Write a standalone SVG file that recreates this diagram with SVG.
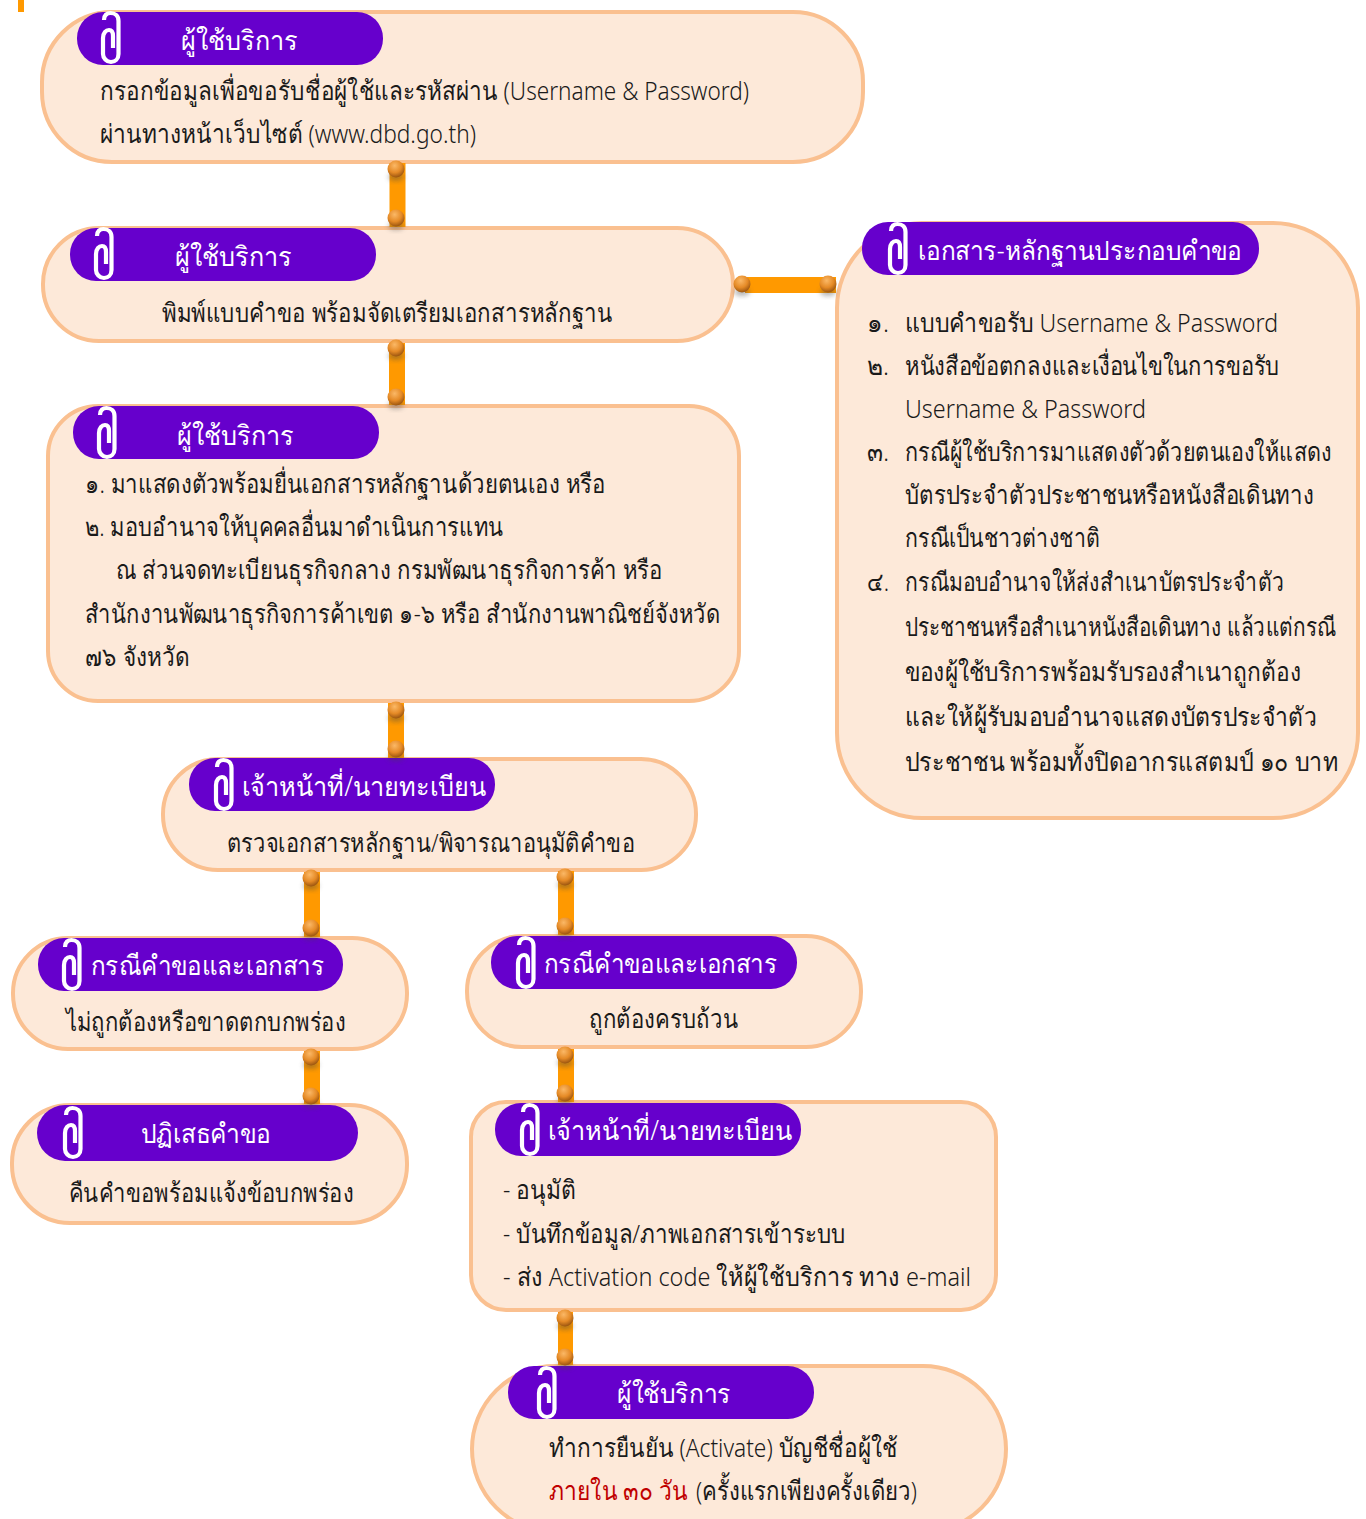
<svg xmlns="http://www.w3.org/2000/svg" width="1366" height="1519" viewBox="0 0 1366 1519">
<style>
.box{fill:#fde9d9;stroke:#fac090;stroke-width:4}
.pill{fill:#6600cc}
.h{font:300 27px "Noto Sans","DejaVu Sans","Liberation Sans",sans-serif;fill:#fff}
.t{font:300 26px "Noto Sans","DejaVu Sans","Liberation Sans",sans-serif;fill:#1a1a1a}
.r{fill:#c00000}
.bar{fill:#ff9900}
</style>
<defs>
<radialGradient id="pg" cx="0.42" cy="0.3" r="0.75"><stop offset="0" stop-color="#fbb866"/><stop offset="0.55" stop-color="#e58a26"/><stop offset="1" stop-color="#8f4c0c"/></radialGradient>
<filter id="bl" x="-50%" y="-50%" width="200%" height="200%"><feGaussianBlur stdDeviation="2.500"/></filter>
<g id="pin"><ellipse cx="0" cy="8" rx="8" ry="4" fill="#444" opacity=".4" filter="url(#bl)"/><circle r="8.500" fill="url(#pg)"/></g>
<path id="clip" d="M3 9C3 4 6 2 9.500 2C14 2 17.500 5 17.500 10V43C17.500 48 14 51 10 51C5.500 51 2 47 2 43V27C2 22 5 19 8 19C11 19 12 22 12 25V37" fill="none" stroke="#fff" stroke-width="4.200"/>
</defs>
<rect x="18" y="0" width="6" height="12" fill="#ff9900"/>
<g id="n1"><rect class="box" x="42" y="12" width="821" height="150" rx="70"/><rect class="pill" x="77" y="12" width="306" height="53" rx="26"/><use href="#clip" x="101" y="11"/>
<text class="h" x="181" y="50" textLength="117" lengthAdjust="spacingAndGlyphs">ผู้ใช้บริการ</text>
<text class="t" x="100" y="100" textLength="649" lengthAdjust="spacingAndGlyphs">กรอกข้อมูลเพื่อขอรับชื่อผู้ใช้และรหัสผ่าน (Username &amp; Password)</text>
<text class="t" x="100" y="143" textLength="376" lengthAdjust="spacingAndGlyphs">ผ่านทางหน้าเว็บไซต์ (www.dbd.go.th)</text></g>
<g id="n2"><rect class="box" x="43" y="228" width="690" height="113" rx="56"/><rect class="pill" x="70" y="228" width="306" height="53" rx="26"/><use href="#clip" x="94" y="227"/>
<text class="h" x="175" y="266" textLength="117" lengthAdjust="spacingAndGlyphs">ผู้ใช้บริการ</text>
<text class="t" x="162" y="322" textLength="450" lengthAdjust="spacingAndGlyphs">พิมพ์แบบคำขอ พร้อมจัดเตรียมเอกสารหลักฐาน</text></g>
<g id="n3"><rect class="box" x="48" y="406" width="691" height="295" rx="50"/><rect class="pill" x="73" y="406" width="306" height="53" rx="26"/><use href="#clip" x="97" y="406"/>
<text class="h" x="177" y="445" textLength="117" lengthAdjust="spacingAndGlyphs">ผู้ใช้บริการ</text>
<text class="t" x="85" y="493" textLength="521" lengthAdjust="spacingAndGlyphs">๑. มาแสดงตัวพร้อมยื่นเอกสารหลักฐานด้วยตนเอง หรือ</text>
<text class="t" x="85" y="536" textLength="418" lengthAdjust="spacingAndGlyphs">๒. มอบอำนาจให้บุคคลอื่นมาดำเนินการแทน</text>
<text class="t" x="116" y="579" textLength="547" lengthAdjust="spacingAndGlyphs">ณ ส่วนจดทะเบียนธุรกิจกลาง กรมพัฒนาธุรกิจการค้า หรือ</text>
<text class="t" x="85" y="623" textLength="635" lengthAdjust="spacingAndGlyphs">สำนักงานพัฒนาธุรกิจการค้าเขต ๑-๖ หรือ สำนักงานพาณิชย์จังหวัด</text>
<text class="t" x="85" y="666" textLength="105" lengthAdjust="spacingAndGlyphs">๗๖ จังหวัด</text></g>
<g id="nR"><rect class="box" x="837" y="223" width="521" height="595" rx="85"/><rect class="pill" x="862" y="222" width="397" height="53" rx="26"/><use href="#clip" x="888" y="222"/>
<text class="h" x="918" y="260" textLength="324" lengthAdjust="spacingAndGlyphs">เอกสาร-หลักฐานประกอบคำขอ</text>
<text class="t" x="867" y="332" textLength="22" lengthAdjust="spacingAndGlyphs">๑.</text>
<text class="t" x="867" y="375" textLength="22" lengthAdjust="spacingAndGlyphs">๒.</text>
<text class="t" x="867" y="461" textLength="22" lengthAdjust="spacingAndGlyphs">๓.</text>
<text class="t" x="867" y="591" textLength="22" lengthAdjust="spacingAndGlyphs">๔.</text>
<g transform="translate(905 0) scale(.85 1)">
<text class="t" x="0" y="332" textLength="438.800" lengthAdjust="spacingAndGlyphs">แบบคำขอรับ Username &amp; Password</text>
<text class="t" x="0" y="375" textLength="440" lengthAdjust="spacingAndGlyphs">หนังสือข้อตกลงและเงื่อนไขในการขอรับ</text>
<text class="t" x="0" y="418" textLength="283.500" lengthAdjust="spacingAndGlyphs">Username &amp; Password</text>
<text class="t" x="0" y="461" textLength="502.400" lengthAdjust="spacingAndGlyphs">กรณีผู้ใช้บริการมาแสดงตัวด้วยตนเองให้แสดง</text>
<text class="t" x="0" y="504" textLength="481.200" lengthAdjust="spacingAndGlyphs">บัตรประจำตัวประชาชนหรือหนังสือเดินทาง</text>
<text class="t" x="0" y="547" textLength="229.400" lengthAdjust="spacingAndGlyphs">กรณีเป็นชาวต่างชาติ</text>
<text class="t" x="0" y="591" textLength="445.900" lengthAdjust="spacingAndGlyphs">กรณีมอบอำนาจให้ส่งสำเนาบัตรประจำตัว</text>
<text class="t" x="0" y="636" textLength="507.100" lengthAdjust="spacingAndGlyphs">ประชาชนหรือสำเนาหนังสือเดินทาง แล้วแต่กรณี</text>
<text class="t" x="0" y="681" textLength="465.900" lengthAdjust="spacingAndGlyphs">ของผู้ใช้บริการพร้อมรับรองสำเนาถูกต้อง</text>
<text class="t" x="0" y="726" textLength="484.700" lengthAdjust="spacingAndGlyphs">และให้ผู้รับมอบอำนาจแสดงบัตรประจำตัว</text>
<text class="t" x="0" y="771" textLength="509.400" lengthAdjust="spacingAndGlyphs">ประชาชน พร้อมทั้งปิดอากรแสตมป์ ๑๐ บาท</text>
</g></g>
<g id="n4"><rect class="box" x="163" y="759" width="533" height="111" rx="55"/><rect class="pill" x="189" y="758" width="306" height="53" rx="26"/><use href="#clip" x="214" y="758"/>
<text class="h" x="242" y="796" textLength="244" lengthAdjust="spacingAndGlyphs">เจ้าหน้าที่/นายทะเบียน</text>
<text class="t" x="227" y="852" textLength="408" lengthAdjust="spacingAndGlyphs">ตรวจเอกสารหลักฐาน/พิจารณาอนุมัติคำขอ</text></g>
<g id="n5"><rect class="box" x="13" y="938" width="394" height="111" rx="55"/><rect class="pill" x="38" y="938" width="305" height="53" rx="26"/><use href="#clip" x="62" y="938"/>
<text class="h" x="91" y="975" textLength="233" lengthAdjust="spacingAndGlyphs">กรณีคำขอและเอกสาร</text>
<text class="t" x="66" y="1031" textLength="280" lengthAdjust="spacingAndGlyphs">ไม่ถูกต้องหรือขาดตกบกพร่อง</text></g>
<g id="n6"><rect class="box" x="467" y="936" width="394" height="111" rx="55"/><rect class="pill" x="491" y="936" width="306" height="53" rx="26"/><use href="#clip" x="516" y="936"/>
<text class="h" x="544" y="973" textLength="233" lengthAdjust="spacingAndGlyphs">กรณีคำขอและเอกสาร</text>
<text class="t" x="589" y="1028" textLength="149" lengthAdjust="spacingAndGlyphs">ถูกต้องครบถ้วน</text></g>
<g id="n7"><rect class="box" x="12" y="1105" width="395" height="118" rx="58"/><rect class="pill" x="37" y="1105" width="321" height="56" rx="28"/><use href="#clip" x="63" y="1106"/>
<text class="h" x="141" y="1143" textLength="130" lengthAdjust="spacingAndGlyphs">ปฏิเสธคำขอ</text>
<text class="t" x="69" y="1202" textLength="285" lengthAdjust="spacingAndGlyphs">คืนคำขอพร้อมแจ้งข้อบกพร่อง</text></g>
<g id="n8"><rect class="box" x="471" y="1102" width="525" height="208" rx="35"/><rect class="pill" x="495" y="1103" width="306" height="53" rx="26"/><use href="#clip" x="520" y="1103"/>
<text class="h" x="548" y="1140" textLength="244" lengthAdjust="spacingAndGlyphs">เจ้าหน้าที่/นายทะเบียน</text>
<text class="t" x="503" y="1199" textLength="73" lengthAdjust="spacingAndGlyphs">- อนุมัติ</text>
<text class="t" x="503" y="1243" textLength="343" lengthAdjust="spacingAndGlyphs">- บันทึกข้อมูล/ภาพเอกสารเข้าระบบ</text>
<text class="t" x="503" y="1286" textLength="468" lengthAdjust="spacingAndGlyphs">- ส่ง Activation code ให้ผู้ใช้บริการ ทาง e-mail</text></g>
<g id="n9"><rect class="box" x="472" y="1366" width="534" height="166" rx="83"/><rect class="pill" x="508" y="1366" width="306" height="53" rx="26"/><use href="#clip" x="537" y="1366"/>
<text class="h" x="617" y="1403" textLength="114" lengthAdjust="spacingAndGlyphs">ผู้ใช้บริการ</text>
<text class="t" x="549" y="1457" textLength="349" lengthAdjust="spacingAndGlyphs">ทำการยืนยัน (Activate) บัญชีชื่อผู้ใช้</text>
<text class="t r" x="549" y="1500" textLength="139" lengthAdjust="spacingAndGlyphs">ภายใน ๓๐ วัน</text>
<text class="t" x="696" y="1500" textLength="221" lengthAdjust="spacingAndGlyphs">(ครั้งแรกเพียงครั้งเดียว)</text></g>
<g id="connectors">
<rect class="bar" x="389.500" y="163" width="16" height="64"/><use href="#pin" x="396" y="169"/><use href="#pin" x="396" y="218"/>
<rect class="bar" x="389" y="343" width="16" height="62"/><use href="#pin" x="396" y="348"/><use href="#pin" x="396" y="397"/>
<rect class="bar" x="745" y="277" width="91" height="16"/><use href="#pin" x="742" y="284"/><use href="#pin" x="828" y="284"/>
<rect class="bar" x="388" y="703" width="16" height="55"/><use href="#pin" x="396" y="710"/><use href="#pin" x="396" y="749"/>
<rect class="bar" x="304" y="872" width="16" height="65"/><use href="#pin" x="311" y="878"/><use href="#pin" x="311" y="928"/>
<rect class="bar" x="558" y="871" width="16" height="64"/><use href="#pin" x="565" y="877"/><use href="#pin" x="565" y="926"/>
<rect class="bar" x="304" y="1051" width="16" height="53"/><use href="#pin" x="311" y="1057"/><use href="#pin" x="311" y="1096"/>
<rect class="bar" x="558" y="1049" width="16" height="53"/><use href="#pin" x="565" y="1055"/><use href="#pin" x="565" y="1093"/>
<rect class="bar" x="558" y="1312" width="15" height="53"/><use href="#pin" x="565" y="1318"/><use href="#pin" x="565" y="1357"/>
</g>
</svg>
